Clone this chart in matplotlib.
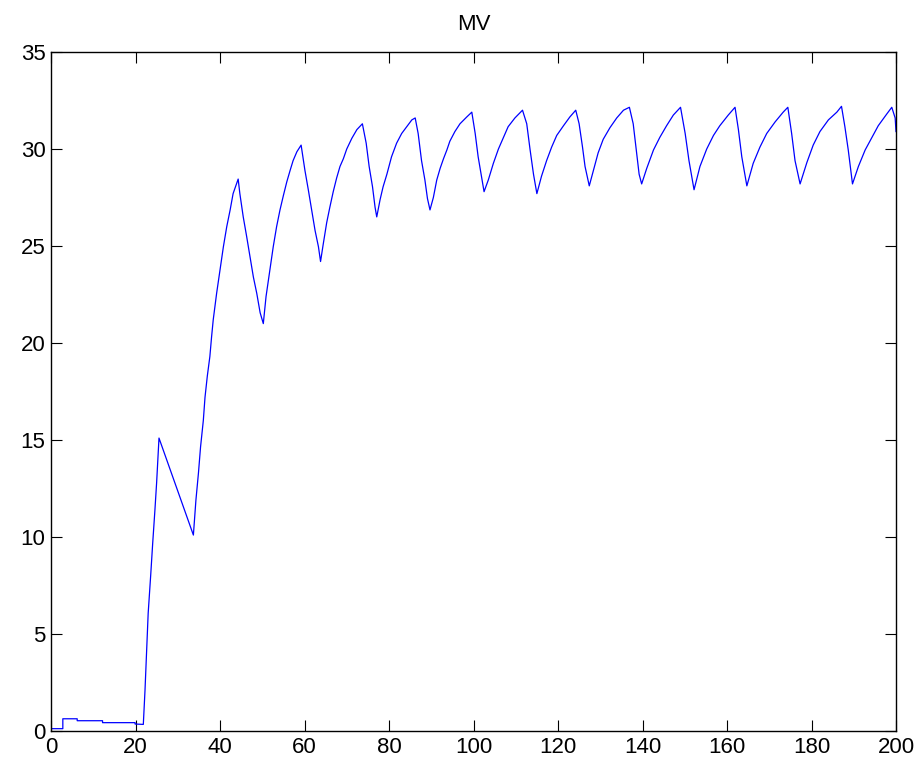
import numpy as np
import matplotlib.pyplot as plt

# MV trace: time [s] and manipulated variable
t = [0, 2.8, 2.8, 6.2, 6.2, 12.2, 12.2, 19.9, 19.9, 21.85,
     22.25, 22.64, 23.0, 23.6, 24.07, 24.6, 25.0, 25.56,
     33.7,
     34.3, 34.9, 35.4, 36.05, 36.45, 37.0, 37.6, 38.0, 38.4, 39.2, 40.0,
     40.8, 41.6, 42.4, 43.1, 44.3,
     44.7, 45.5, 46.3, 47.1, 47.9, 48.7, 49.5, 50.25,
     50.9, 51.8, 52.6, 53.4, 54.2, 55.0, 55.8, 56.6, 57.3, 58.2, 59.2,
     60.1, 60.9, 61.7, 62.5, 63.3, 63.8,
     64.4, 65.25, 66.0, 66.8, 67.6, 68.4, 69.2, 70.0, 71.2, 72.4, 73.7,
     74.6, 75.3, 76.1, 76.7, 77.1,
     77.9, 78.6, 79.5, 80.6, 81.8, 83.0, 84.2, 85.4, 86.2,
     86.9, 87.7, 88.5, 89.1, 89.7,
     90.5, 91.3, 92.1, 92.9, 93.7, 94.4, 95.6, 96.8, 98.4, 99.6,
     100.4, 101.1, 101.8, 102.5,
     103.5, 104.7, 105.9, 107.1, 108.2, 109.8, 111.6,
     112.6, 113.4, 114.2, 115.0,
     116.1, 117.3, 118.5, 119.7, 121.3, 122.8, 124.2,
     125.0, 125.8, 126.4, 127.4,
     128.4, 129.5, 130.7, 132.3, 133.9, 135.5, 136.9,
     137.8, 138.6, 139.2, 139.8,
     141.0, 142.6, 144.1, 145.7, 147.3, 149.0,
     150.1, 151.0, 152.2,
     153.6, 155.2, 156.8, 158.3, 160.3, 161.9,
     162.7, 163.5, 164.7,
     166.2, 167.8, 169.4, 171.4, 173.3, 174.4,
     175.3, 176.1, 177.3,
     178.9, 180.4, 182.0, 184.0, 186.0, 187.1,
     187.9, 188.7, 189.7,
     191.1, 192.7, 194.3, 195.8, 197.8, 199.0, 199.8, 200.0]

mv = [0.12, 0.12, 0.63, 0.63, 0.53, 0.53, 0.43, 0.43, 0.36, 0.34,
      2.1, 4.17, 6.07, 8.04, 9.68, 11.4, 12.8, 15.1,
      10.1,
      11.9, 13.3, 14.65, 16.0, 17.2, 18.3, 19.3, 20.3, 21.2, 22.56, 23.76,
      24.96, 26.0, 26.86, 27.7, 28.45,
      27.7, 26.5, 25.5, 24.45, 23.4, 22.56, 21.56, 21.0,
      22.4, 23.76, 24.96, 26.0, 26.86, 27.6, 28.3, 28.9, 29.4, 29.86, 30.2,
      28.9, 27.9, 26.86, 25.8, 24.96, 24.2,
      25.05, 26.2, 27.0, 27.8, 28.5, 29.1, 29.5, 30.0, 30.55, 31.0, 31.3,
      30.3, 29.1, 28.05, 27.0, 26.5,
      27.4, 28.05, 28.7, 29.6, 30.3, 30.8, 31.15, 31.5, 31.6,
      30.8, 29.4, 28.4, 27.45, 26.86,
      27.5, 28.4, 29.0, 29.5, 29.95, 30.4, 30.9, 31.3, 31.65, 31.9,
      30.8, 29.6, 28.7, 27.8,
      28.4, 29.26, 30.0, 30.6, 31.15, 31.6, 32.0,
      31.3, 29.95, 28.7, 27.7,
      28.6, 29.4, 30.1, 30.7, 31.2, 31.65, 32.0,
      31.3, 30.1, 29.1, 28.1,
      28.9, 29.8, 30.5, 31.1, 31.6, 32.0, 32.15,
      31.3, 29.8, 28.7, 28.2,
      29.0, 29.95, 30.6, 31.2, 31.75, 32.15,
      30.8, 29.4, 27.9,
      29.1, 30.0, 30.7, 31.2, 31.75, 32.15,
      31.0, 29.6, 28.1,
      29.26, 30.1, 30.8, 31.4, 31.9, 32.15,
      30.8, 29.4, 28.2,
      29.3, 30.2, 30.9, 31.5, 31.9, 32.2,
      31.15, 29.95, 28.2,
      29.1, 29.95, 30.6, 31.2, 31.8, 32.15, 31.6, 30.9]

plt.rcParams['font.family'] = ['Liberation Sans', 'DejaVu Sans']

fig = plt.figure(figsize=(9.22, 7.67), dpi=100)
ax = fig.add_axes([51/922, 36/767, 845/922, 679/767])

ax.plot(t, mv, color='#0000ff', linewidth=0.9)

ax.set_xlim(0, 200)
ax.set_ylim(0, 35)
ax.set_xticks(np.arange(0, 201, 20))
ax.set_yticks(np.arange(0, 36, 5))
ax.tick_params(direction='in', length=8, width=0.8, top=True, right=True,
               labelsize=16, pad=4)
for s in ax.spines.values():
    s.set_linewidth(1.0)
ax.set_title('MV', fontsize=16, pad=16)

fig.savefig('out.png', dpi=100)
